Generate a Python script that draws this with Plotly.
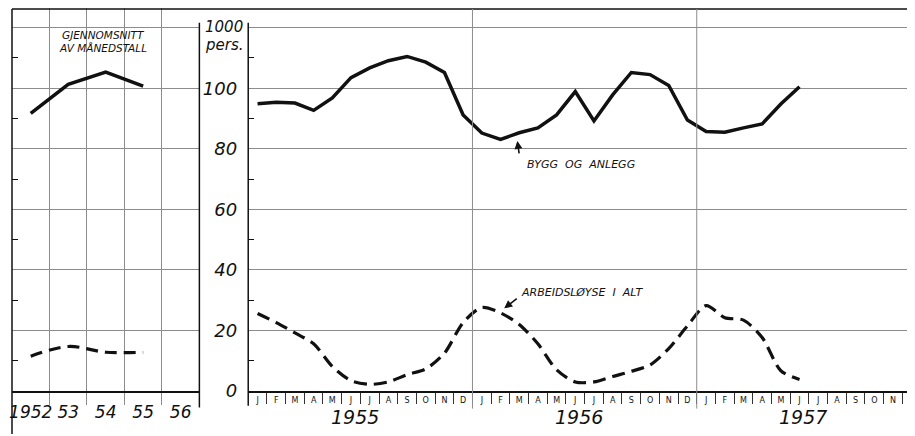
import plotly.graph_objects as go

# ---------------- data ----------------
avg_year_labels = ["1952", "53", "54", "55", "56"]
bygg_avg = [91.7, 101.3, 105.3, 100.7]
ledige_avg = [11.5, 14.7, 12.8, 12.8]

month_letters = ["J", "F", "M", "A", "M", "J", "J", "A", "S", "O", "N", "D"]
year_labels = ["1955", "1956", "1957"]
y_tick_values = [0, 20, 40, 60, 80, 100, 120]
y_tick_text = ["0", "20", "40", "60", "80", "100", ""]

bygg = [94.9, 95.4, 95.1, 92.7, 96.8, 103.5, 106.7, 109.1, 110.5, 108.6, 105.2, 91.2,
        85.2, 83.1, 85.3, 86.9, 91.2, 98.9, 89.2, 97.8, 105.2, 104.5, 100.9, 89.5,
        85.7, 85.5, 86.9, 88.2, 94.8, 100.5]
ledige = [25.6, 22.6, 19.2, 15.6, 8.1, 3.4, 2.2, 3.0, 5.4, 7.3, 12.5, 22.6,
          27.6, 25.8, 22.0, 15.6, 7.0, 3.0, 3.0, 4.8, 6.5, 8.6, 14.0, 21.5,
          28.2, 24.2, 23.4, 17.7, 6.7, 3.8]

# ---------------- geometry helpers ----------------
# the page body adds an 8px margin, so screen position = figure position + 8
W, H = 915, 436
OFF = 8
def px(x):
    return (x - OFF) / W
def py(y):
    return 1 - (y - OFF) / H

YMAX = 126.5
ydom = [py(400), py(8)]
n_months = len(month_letters) * len(year_labels)
month_idx = list(range(n_months))
MONTH_W = 18.75

INK = "#111111"
GRID = "#8c8c8c"
FONT = "DejaVu Sans"

fig = go.Figure()

# left panel: yearly averages
fig.add_trace(go.Scatter(x=list(range(len(bygg_avg))), y=bygg_avg, mode="lines",
                         line=dict(color=INK, width=3.5), xaxis="x", yaxis="y",
                         showlegend=False, hoverinfo="skip"))
fig.add_trace(go.Scatter(x=list(range(len(ledige_avg))), y=ledige_avg, mode="lines",
                         line=dict(color=INK, width=3.2, dash="12px,7px", shape="spline"),
                         xaxis="x", yaxis="y", showlegend=False, hoverinfo="skip"))

# main panel: monthly
fig.add_trace(go.Scatter(x=month_idx[:len(bygg)], y=bygg, mode="lines",
                         line=dict(color=INK, width=3.5), xaxis="x2", yaxis="y2",
                         showlegend=False, hoverinfo="skip"))
fig.add_trace(go.Scatter(x=month_idx[:len(ledige)], y=ledige, mode="lines",
                         line=dict(color=INK, width=3.2, dash="13px,7px", shape="spline", smoothing=0.8),
                         xaxis="x2", yaxis="y2", showlegend=False, hoverinfo="skip"))
# dummy trace for right-side tick axis
fig.add_trace(go.Scatter(x=[None], y=[None], xaxis="x2", yaxis="y3",
                         showlegend=False, hoverinfo="skip"))

minor_y = dict(tickvals=[10, 30, 50, 70, 90, 110], ticks="inside", ticklen=6,
               tickcolor=INK, tickwidth=1, showgrid=False)

fig.update_layout(
    width=W, height=H,
    margin=dict(l=0, r=0, t=0, b=0),
    paper_bgcolor="white", plot_bgcolor="white",
    font=dict(family=FONT, color=INK),
    xaxis=dict(domain=[px(9), px(197)], range=[-0.5, 4.5], anchor="y",
               tickmode="array", tickvals=list(range(len(avg_year_labels))),
               ticktext=avg_year_labels, ticks="", showgrid=False, zeroline=False,
               tickfont=dict(size=17, style="italic", family=FONT, color=INK),
               ticklabelstandoff=5, ticklabeloverflow="allow",
               showline=True, linecolor=INK, linewidth=1.5,
               minor=dict(tickvals=[0.5, 1.5, 2.5, 3.5], showgrid=True, gridcolor=GRID,
                          gridwidth=1, ticks="outside", ticklen=12, tickcolor=GRID)),
    yaxis=dict(domain=ydom, range=[0, YMAX], anchor="x",
               tickmode="array", tickvals=y_tick_values, showticklabels=False,
               ticks="", showgrid=True, gridcolor=GRID, gridwidth=1, zeroline=False,
               showline=False, mirror="ticks", minor=minor_y),
    xaxis2=dict(domain=[px(246), px(915)], range=[-0.5, -0.5 + (915 - 246) / MONTH_W], anchor="y2",
                tickmode="array", tickvals=month_idx,
                ticktext=month_letters * len(year_labels), ticks="",
                tickfont=dict(size=8, family=FONT, color=INK), ticklabelstandoff=1,
                ticklabeloverflow="allow",
                showgrid=False, zeroline=False,
                showline=True, linecolor=INK, linewidth=1.5,
                minor=dict(tickvals=[k + 0.5 for k in range(n_months - 1)], ticks="outside",
                           ticklen=11, tickcolor="#333333", tickwidth=1, showgrid=False)),
    yaxis2=dict(domain=ydom, range=[0, YMAX], anchor="x2",
                tickmode="array", tickvals=y_tick_values, ticktext=y_tick_text,
                tickfont=dict(size=18, style="italic", family=FONT, color=INK),
                ticks="", ticklabelstandoff=10, ticklabeloverflow="allow",
                showgrid=True, gridcolor=GRID, gridwidth=1, zeroline=False,
                showline=False, minor=minor_y),
    yaxis3=dict(domain=ydom, range=[0, YMAX], anchor="x2", overlaying="y2", side="right",
                tickmode="array", tickvals=[], showticklabels=False, ticks="",
                showgrid=False, zeroline=False, showline=False,
                minor=dict(tickvals=[10, 30, 50, 70, 90, 110], ticks="inside", ticklen=5,
                           tickcolor=INK, tickwidth=1, showgrid=False)),
)

line_kw = dict(color=INK, width=1.5)
shapes = [
    # top frame
    dict(type="line", xref="paper", yref="paper", x0=px(9), x1=1, y0=py(9), y1=py(9), line=line_kw),
    # left frame
    dict(type="line", xref="paper", yref="paper", x0=px(9), x1=px(9), y0=0, y1=py(9), line=line_kw),
    # left panel right border
    dict(type="line", xref="paper", yref="paper", x0=px(197), x1=px(197), y0=py(417), y1=py(23), line=line_kw),
    # main y axis line
    dict(type="line", xref="paper", yref="paper", x0=px(246), x1=px(246), y0=py(415), y1=py(23), line=line_kw),
]
for k in range(1, len(year_labels)):
    shapes.append(dict(type="line", xref="x2", yref="paper", x0=12 * k - 0.5, x1=12 * k - 0.5,
                       y0=py(418), y1=py(9), line=dict(color=GRID, width=1)))
fig.update_layout(shapes=shapes)

ann = []
ital = lambda s: dict(size=s, style="italic", family=FONT, color=INK)
for k, lab in enumerate(year_labels):
    ann.append(dict(text=lab, xref="x2", yref="paper", x=12 * k + 5.2, y=py(427),
                    showarrow=False, font=ital(19), xanchor="center", yanchor="middle"))
ann.append(dict(text="1000", xref="paper", yref="paper", x=px(222), y=py(27), showarrow=False,
                font=ital(15), xanchor="center", yanchor="middle"))
ann.append(dict(text="pers.", xref="paper", yref="paper", x=px(222), y=py(46), showarrow=False,
                font=ital(15), xanchor="center", yanchor="middle"))
ann.append(dict(text="GJENNOMSNITT", xref="paper", yref="paper", x=px(101), y=py(36),
                showarrow=False, font=ital(10.5), xanchor="center", yanchor="middle"))
ann.append(dict(text="AV MÅNEDSTALL", xref="paper", yref="paper", x=px(100), y=py(49),
                showarrow=False, font=ital(10.5), xanchor="center", yanchor="middle"))
ann.append(dict(text="BYGG  OG  ANLEGG", xref="x2", yref="y2", x=17.3, y=74.8,
                showarrow=False, font=ital(11), xanchor="center", yanchor="middle"))
ann.append(dict(text="", xref="x2", yref="y2", x=13.9, y=82.6, ax=2, ay=14,
                showarrow=True, arrowhead=2, arrowsize=1, arrowwidth=1.6, arrowcolor=INK))
ann.append(dict(text="ARBEIDSLØYSE  I  ALT", xref="x2", yref="y2", x=17.4, y=32.6,
                showarrow=False, font=ital(11), xanchor="center", yanchor="middle"))
ann.append(dict(text="", xref="x2", yref="y2", x=13.2, y=27.3, ax=14, ay=-11,
                showarrow=True, arrowhead=2, arrowsize=1, arrowwidth=1.6, arrowcolor=INK))
fig.update_layout(annotations=ann)

fig.write_html("out.html")
